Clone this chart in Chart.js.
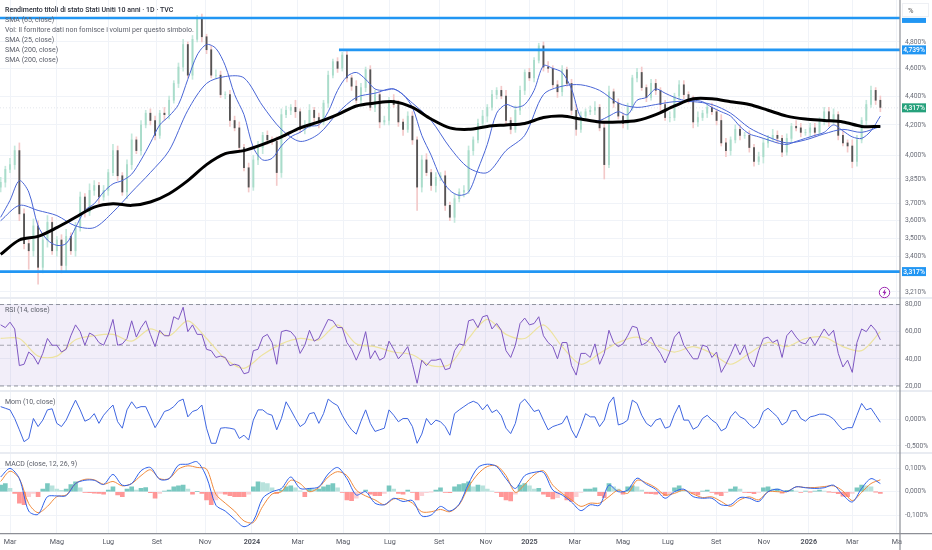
<!DOCTYPE html>
<html>
<head>
<meta charset="utf-8">
<title>Rendimento titoli di stato Stati Uniti 10 anni</title>
<script src="https://cdn.jsdelivr.net/npm/chart.js@4"></script>
<style>
    html, body { margin: 0; padding: 0; background: #fff; }
    #wrap { position: relative; width: 932px; height: 550px; overflow: hidden; font-family: Roboto, sans-serif; }
    #priceChart { position: absolute; left: 0; top: 0; }
    .lbl { position: absolute; left: 5px; font-size: 7px; line-height: 10px; color: #5d606b; white-space: nowrap; }
    .title { color: #2a2e39; font-weight: 500; }
    #unit { position: absolute; left: 902px; top: 3px; width: 27px; height: 14px; border: 1px solid #eef0f4; color: #555; font-size: 7.5px; line-height: 14px; text-indent: 5px; box-sizing: border-box; }
    #bolt { position: absolute; left: 878px; top: 286px; }
</style>
</head>
<body>
<div id="wrap">
    <canvas id="priceChart" width="932" height="550"></canvas>
    <div class="lbl title" style="top:5px">Rendimento titoli di stato Stati Uniti 10 anni · 1D · TVC</div>
    <div class="lbl" style="top:15px">SMA (65, close)</div>
    <div class="lbl" style="top:25px">Vol: Il fornitore dati non fornisce i volumi per questo simbolo.</div>
    <div class="lbl" style="top:35px">SMA (25, close)</div>
    <div class="lbl" style="top:45px">SMA (200, close)</div>
    <div class="lbl" style="top:55px">SMA (200, close)</div>
    <div class="lbl" style="top:305px">RSI (14, close)</div>
    <div class="lbl" style="top:397px">Mom (10, close)</div>
    <div class="lbl" style="top:459px">MACD (close, 12, 26, 9)</div>
    <div id="unit">%</div>
    <svg id="bolt" width="13" height="13" viewBox="0 0 13 13">
        <circle cx="6.5" cy="6.5" r="5.2" fill="#fff" stroke="#9c27b0" stroke-width="1"/>
        <path d="M7.4 2.8 L4.5 7 L6.2 7 L5.5 10.2 L8.5 5.8 L6.8 5.8 Z" fill="#9c27b0"/>
    </svg>
</div>
<script>
// Each sample is a block of about four sessions
const tickPositions = [2, 12, 23, 33.4, 43.7, 53.7, 63.5, 73.2, 83.2, 93.7, 103.7, 113, 122.7, 133, 142.6, 152.9, 163.1, 172.7, 182, 191.5];
const tickLabels = ['Mar', 'Mag', 'Lug', 'Set', 'Nov', '2024', 'Mar', 'Mag', 'Lug', 'Set', 'Nov', '2025', 'Mar', 'Mag', 'Lug', 'Set', 'Nov', '2026', 'Mar', 'Ma'];
const xMin = -0.14;
const xMax = 192.2;

const priceTicks = [4.8, 4.6, 4.4, 4.2, 4.0, 3.85, 3.7, 3.6, 3.5, 3.4, 3.21];
const rsiTicks = [80, 60, 40, 20];
const momTicks = [0, -0.5];
const macdTicks = [0.1, 0, -0.1];

const closes = [
    3.83,3.91,3.94,4.03,3.64,3.47,3.43,3.57,3.34,3.49,
    3.59,3.43,3.49,3.35,3.51,3.43,3.56,3.74,3.65,3.78,
    3.81,3.74,3.78,3.89,4.03,3.87,3.77,3.94,4.10,4.03,
    4.20,4.28,4.23,4.13,4.28,4.27,4.37,4.49,4.61,4.78,
    4.55,4.82,4.99,4.84,4.74,4.55,4.55,4.41,4.41,4.23,
    4.18,4.05,3.92,3.80,3.97,4.05,4.13,4.10,4.09,3.89,
    4.27,4.30,4.32,4.29,4.17,4.20,4.30,4.25,4.22,4.35,
    4.55,4.65,4.60,4.70,4.53,4.47,4.37,4.46,4.59,4.32,
    4.41,4.22,4.23,4.37,4.34,4.22,4.17,4.26,4.10,3.80,
    3.97,3.89,3.81,3.86,3.87,3.69,3.62,3.73,3.77,3.78,
    4.03,4.10,4.21,4.26,4.32,4.41,4.44,4.40,4.23,4.17,
    4.30,4.44,4.57,4.53,4.66,4.77,4.61,4.60,4.48,4.43,
    4.59,4.49,4.30,4.17,4.26,4.29,4.30,4.32,4.18,3.94,
    4.43,4.35,4.26,4.21,4.32,4.53,4.57,4.46,4.39,4.49,
    4.44,4.34,4.25,4.25,4.40,4.48,4.41,4.37,4.22,4.25,
    4.28,4.32,4.29,4.23,4.08,4.03,4.10,4.17,4.13,4.13,
    4.05,3.96,3.99,4.08,4.11,4.13,4.11,4.02,4.11,4.19,
    4.18,4.15,4.15,4.18,4.15,4.23,4.29,4.23,4.27,4.13,
    4.08,4.06,3.96,4.10,4.23,4.34,4.44,4.37,4.32
];
// Wick lengths above and below the body, in hundredths of a point
const wickHigh = [
    3,2,4,3,5,3,2,4,3,2, 4,3,2,3,4,2,3,3,2,4,
    3,2,3,2,4,3,2,3,4,2, 3,2,3,3,2,4,3,2,3,4,
    2,3,2,3,2,3,4,3,2,3, 3,4,2,3,3,4,2,3,2,3,
    4,3,2,5,2,3,4,2,3,2, 3,2,3,2,3,2,4,3,2,3,
    3,2,3,2,4,3,2,3,3,2, 3,4,2,3,2,3,2,3,2,3,
    3,2,3,4,2,3,2,3,4,2, 3,3,2,3,2,2,3,4,2,3,
    3,2,3,4,3,2,3,4,2,3, 4,2,3,2,3,2,3,4,2,3,
    3,2,3,4,2,3,3,2,3,4, 2,3,3,2,4,3,2,3,3,2,
    3,2,3,3,2,4,3,2,3,2, 4,3,2,3,3,2,3,3,4,2,
    3,2,4,3,2,3,3,2,3
];
const wickLow = [
    3,3,2,3,4,3,10,3,9,3, 4,2,3,4,3,2,3,2,3,2,
    3,4,2,3,2,3,2,4,3,2, 3,2,3,3,2,4,3,2,3,3,
    2,3,2,4,3,2,3,2,3,4, 2,3,2,3,2,3,4,3,2,8,
    3,2,3,4,2,3,2,3,4,2, 3,2,3,2,3,3,2,4,3,2,
    3,4,2,3,2,3,4,2,3,14, 3,2,3,4,2,3,2,3,2,3,
    2,3,2,3,4,2,3,2,3,3, 2,3,3,2,3,2,3,3,2,4,
    3,2,3,4,2,3,2,3,2,9, 2,3,2,3,4,2,3,2,3,2,
    3,4,2,3,2,3,3,2,4,3, 2,3,2,3,2,4,3,2,3,2,
    3,3,2,4,3,2,3,3,2,3, 2,3,2,3,3,2,3,4,2,3,
    2,4,4,3,2,3,2,3,3
];

// Moving averages: sma25 every 2 samples, sma65 and sma200 every 4
const sma25 = [
    3.62,3.72,3.84,3.77,3.57,3.49,3.46,3.47,3.56,3.66,3.70,3.77,3.82,3.84,3.88,3.97,
    4.08,4.20,4.26,4.34,4.52,4.70,4.78,4.75,4.62,4.41,4.27,4.05,3.97,3.98,4.06,4.12,
    4.15,4.19,4.20,4.29,4.44,4.54,4.57,4.52,4.45,4.44,4.45,4.41,4.32,4.13,4.00,3.86,
    3.78,3.75,3.77,3.91,4.07,4.28,4.34,4.32,4.34,4.44,4.62,4.60,4.57,4.45,4.25,4.23,
    4.23,4.26,4.29,4.27,4.37,4.39,4.45,4.42,4.39,4.37,4.37,4.36,4.32,4.29,4.26,4.19,
    4.14,4.12,4.10,4.08,4.07,4.09,4.11,4.13,4.15,4.20,4.16,4.12,4.11,4.16,4.26
];
const sma65 = [
    3.60,3.69,3.66,3.63,3.57,3.56,3.65,3.77,3.89,4.03,4.30,4.49,4.54,4.53,4.33,4.17,
    4.09,4.14,4.28,4.39,4.42,4.45,4.35,4.23,4.05,3.92,3.89,4.03,4.13,4.41,4.47,4.48,
    4.44,4.35,4.32,4.34,4.36,4.36,4.34,4.28,4.18,4.12,4.08,4.10,4.14,4.17,4.15,4.19
];
const sma200 = [
    3.41,3.49,3.51,3.56,3.62,3.68,3.70,3.69,3.71,3.76,3.84,3.94,4.01,4.03,4.07,4.12,
    4.18,4.22,4.27,4.33,4.35,4.36,4.32,4.24,4.18,4.17,4.19,4.20,4.21,4.25,4.26,4.24,
    4.22,4.22,4.23,4.27,4.33,4.38,4.38,4.36,4.34,4.30,4.26,4.24,4.23,4.22,4.19,4.19
];

const rsiValues = [
    65,63,67,62,35,36,45,42,36,44,55,50,50,45,47,57,65,60,50,59,57,52,50,58,69,50,51,55,68,56,
    63,68,58,49,61,57,57,71,69,78,60,65,58,58,47,46,41,42,41,35,36,35,29,30,46,47,56,58,52,36,
    60,61,60,56,44,50,61,
    53,55,62,69,68,63,63,52,47,39,47,60,40,46,39,41,53,47,40,44,49,36,22,39,35,39,39,40,32,33,
    46,51,50,68,69,63,71,72,62,66,61,46,41,50,66,70,65,66,71,57,52,49,40,52,52,35,28,44,44,41,
    51,36,44,61,52,49,
    51,57,64,63,50,52,56,49,44,37,45,56,60,50,45,40,40,50,49,41,45,30,36,43,51,43,50,39,34,46,
    55,56,52,54,41,57,61,56,52,51,56,50,56,62,57,61,44,34,39,30,52,62,60,65,61,54
];
const rsiMa = [
    55,55,42,42,54,57,58,53,62,57,68,55,40,33,43,51,55,54,65,51,49,45,43,35,36,55,69,58,55,65,
    49,36,44,52,56,50,45,49,44,36,44,52,49,55,56,49,46,60
];
const momValues = [
    .23,.20,.17,.01,-.20,-.42,-.36,.01,-.14,-.02,.17,.19,-.08,-.14,-.02,.17,.35,.17,-.04,0,
    .10,-.08,.07,.17,.26,-.05,-.17,.17,.32,.20,.23,.23,.04,-.16,-.02,.14,.17,.23,.33,.37,
    .04,.14,.17,.26,-.17,-.45,-.45,-.17,-.16,-.17,-.19,-.36,-.30,-.39,-.02,.17,.17,.10,.07,-.20,
    .01,.32,.17,.01,-.14,-.08,.10,
    .12,-.08,.10,.37,.30,.25,.07,-.08,-.20,-.28,-.04,.17,-.08,-.23,-.20,-.17,.17,.07,-.05,.01,
    .01,-.14,-.45,-.28,.01,-.11,-.02,-.05,-.14,-.30,.10,.17,.23,.29,.33,.29,.17,.27,.12,.17,
    .06,-.17,-.27,-.08,.29,.37,.26,.14,.17,-.02,-.20,-.14,-.11,-.08,.06,-.20,-.35,-.14,.10,.04,
    .04,-.14,-.02,.29,.41,-.11,
    -.08,-.02,.35,.29,.07,-.08,-.14,-.02,.01,-.17,-.14,.09,.26,-.02,-.02,-.19,-.14,.01,.07,-.02,
    -.08,-.22,-.17,.04,.14,.04,0,-.10,-.17,-.08,.14,.20,.12,.04,-.11,-.05,.15,.16,.01,-.04,
    .04,.06,.09,.09,.06,0,-.11,-.20,-.16,-.16,.07,.29,.17,.20,.07,-.06
];

// MACD and signal every 2 samples, histogram every sample
const macdLine = [
    .063,.100,.056,-.083,-.097,-.021,-.018,-.017,.035,.049,.049,.031,.074,.028,.035,.090,.104,
    .053,.056,.114,.118,.128,.063,-.058,-.083,-.118,-.150,-.125,-.028,0,.014,.063,.014,.014,
    .021,.076,.104,.056,-.014,0,-.049,-.056,-.028,-.042,-.038,-.104,-.100,-.063,-.083,-.053,.035,
    .104,.118,.108,.056,.014,.069,.083,.083,.007,-.014,-.044,-.081,-.056,-.058,.028,0,
    .007,.058,.032,.010,-.028,0,.011,-.021,-.028,-.028,-.056,-.056,-.025,-.028,-.042,0,.011,0,
    .021,.017,.014,.017,.028,-.014,-.044,.014,.056,.035
];
const macdSignal = [
    .044,.088,.056,-.051,-.090,-.063,-.021,-.014,.035,.053,.051,.032,.044,.025,.035,.069,.094,
    .056,.056,.097,.111,.104,.097,-.011,-.049,-.083,-.125,-.132,-.063,-.010,0,.049,.035,0,
    .018,.063,.086,.069,.007,-.018,-.035,-.056,-.031,-.031,-.049,-.086,-.086,-.076,-.086,-.056,.021,
    .076,.108,.111,.069,-.003,.031,.072,.090,.028,-.007,-.035,-.063,-.049,-.049,-.021,.007,
    -.007,.049,.038,.017,-.014,-.007,.007,-.010,-.025,-.022,-.042,-.063,-.035,-.022,-.035,0,0,0,
    .021,.018,.018,.022,.025,.003,-.038,-.003,.035,.051
];
const macdHist = [
    .028,.035,.014,-.007,-.049,-.056,-.021,-.007,-.021,.011,.035,.025,.011,.006,.011,.031,.042,.017,-.003,-.004,
    -.006,-.007,-.011,.007,.021,-.014,-.021,.011,.021,.007,.014,.018,-.004,-.028,-.007,.003,.007,.021,.025,.028,
    .011,-.011,.001,-.007,-.035,-.056,-.035,-.007,-.011,-.017,-.021,-.021,-.021,-.011,.021,.042,.039,.035,.017,-.007,
    .007,.021,.025,.017,.004,-.021,.014,
    .011,.011,.021,.028,.035,.017,-.003,-.035,-.038,-.028,-.007,.007,-.011,-.017,-.017,-.007,.025,.011,-.007,-.011,
    .007,-.003,-.035,-.017,-.004,-.001,.007,.017,-.003,-.004,.021,.031,.035,.042,.021,.028,.025,.011,.003,-.003,
    -.021,-.035,-.039,-.011,.028,.035,.025,.011,.014,-.011,-.021,-.031,-.025,-.003,-.035,-.042,-.021,-.003,.011,.011,
    .017,-.017,-.025,.035,.021,.011,
    -.011,.021,.025,.021,.007,-.007,-.008,-.011,-.007,-.017,-.011,.017,.025,.007,.003,-.007,-.014,.003,.007,-.003,
    -.011,-.017,-.004,.011,.021,.011,-.003,-.004,-.008,-.003,.017,.021,.011,.011,-.006,.006,.007,.003,-.003,.003,
    -.001,.003,.007,.003,-.001,-.003,-.008,-.019,-.021,-.007,.017,.028,.025,.021,-.001,-.007
];

const topLevel = 4.989;
const midLevel = 4.739;
const midLevelStart = 72.3;
const lowLevel = 3.317;
const lastClose = 4.317;

const COLORS = {
    level: '#2196f3', smaThin: '#4a66d6', smaThick: '#000000',
    up: '#a9dcca', down: '#555555', wickUp: '#c4e8dc', wickDown: '#f3c9c9',
    rsi: '#7e57c2', rsiMa: '#ede3a0', mom: '#3f66e0', macd: '#2f62ea', signal: '#f08a3c',
    grid: '#f0f3f8', axis: '#8d8f96', text: '#6a6d78'
};

const bodies = closes.map((c, i) => {
    const open = i > 0 ? closes[i - 1] : c - 0.03;
    return { x: i, y: [Math.min(open, c), Math.max(open, c)] };
});
const wicks = closes.map((c, i) => {
    const open = i > 0 ? closes[i - 1] : c - 0.03;
    return { x: i, y: [Math.min(open, c) - wickLow[i] / 100, Math.max(open, c) + wickHigh[i] / 100] };
});
const isUp = i => i === 0 || closes[i] >= closes[i - 1];

function series(values, step) {
    return values.map((v, i) => ({ x: i * step, y: v }));
}

function lineSet(values, step, axis, color, width, order, tension) {
    return {
        type: 'line', data: series(values, step), yAxisID: axis,
        borderColor: color, borderWidth: width, pointRadius: 0, tension: tension || 0, order: order
    };
}

// Straight two point line used for levels and guides
function flatSet(value, axis, color, width, order, dash, start) {
    return {
        type: 'line', data: [{ x: start === undefined ? xMin : start, y: value }, { x: xMax, y: value }],
        yAxisID: axis, borderColor: color, borderWidth: width, borderDash: dash || [],
        pointRadius: 0, order: order
    };
}

function yScale(ticksList, weight, min, max, format, extra) {
    return Object.assign({
        type: 'linear', position: 'right', stack: 'panes', stackWeight: weight, min: min, max: max,
        afterFit: s => { s.width = 32; s.paddingTop = 0; s.paddingBottom = 0; },
        afterBuildTicks: s => { s.ticks = ticksList.map(v => ({ value: v })); },
        grid: { color: COLORS.grid, drawTicks: false },
        border: { display: false },
        ticks: {
            autoSkip: false, padding: 5, color: COLORS.text, font: { family: 'Roboto', size: 6.7 },
            callback: format
        }
    }, extra || {});
}

const fmtPct = v => v.toFixed(3).replace('.', ',') + '%';
const fmtRsi = v => v.toFixed(2).replace('.', ',');

// Right side price tags and frame lines
const framePlugin = {
    id: 'frame',
    afterDatasetsDraw(chart) {
        const ctx = chart.ctx;
        const s = chart.scales;
        ctx.save();
        ctx.strokeStyle = '#e9ecf2';
        ctx.lineWidth = 2;
        [s.yRsi.top, s.yMom.top, s.yMacd.top].forEach(y => {
            ctx.beginPath();
            ctx.moveTo(0, y);
            ctx.lineTo(932, y);
            ctx.stroke();
        });
        ctx.strokeStyle = COLORS.axis;
        ctx.lineWidth = 1.2;
        ctx.beginPath();
        ctx.moveTo(s.x.right, 0);
        ctx.lineTo(s.x.right, 550);
        ctx.moveTo(0, s.x.top);
        ctx.lineTo(932, s.x.top);
        ctx.stroke();

        const tags = [
            [topLevel, COLORS.level, 3],
            [midLevel, COLORS.level, 0],
            [lastClose, '#26a17c', 0],
            [lowLevel, COLORS.level, 0]
        ];
        ctx.font = '500 6.7px Roboto';
        ctx.textAlign = 'center';
        ctx.textBaseline = 'middle';
        tags.forEach(t => {
            const y = s.y.getPixelForValue(t[0]);
            ctx.fillStyle = t[1];
            if (t[2]) {
                ctx.fillRect(902, y, 24, 5);
                return;
            }
            ctx.fillRect(902, y - 4.5, 24, 9);
            ctx.fillStyle = '#fff';
            ctx.fillText(fmtPct(t[0]), 914, y + 0.3);
        });
        ctx.restore();
    }
};

const chart = new Chart(document.getElementById('priceChart').getContext('2d'), {
    data: {
        datasets: [
            // price pane
            flatSet(topLevel, 'y', COLORS.level, 2.6, 1),
            flatSet(midLevel, 'y', COLORS.level, 2.6, 1, null, midLevelStart),
            flatSet(lowLevel, 'y', COLORS.level, 2.6, 1),
            flatSet(lastClose, 'y', '#e3e6ec', 1, 9, [1, 2]),
            lineSet(sma200, 4, 'y', COLORS.smaThick, 3, 2, 0.3),
            lineSet(sma65, 4, 'y', COLORS.smaThin, 1, 3, 0.3),
            lineSet(sma25, 2, 'y', COLORS.smaThin, 1, 3, 0.3),
            {
                type: 'bar', data: bodies, yAxisID: 'y', grouped: false, barThickness: 1.2, order: 5,
                backgroundColor: c => isUp(c.dataIndex) ? COLORS.up : COLORS.down
            },
            {
                type: 'bar', data: wicks, yAxisID: 'y', grouped: false, barThickness: 1, order: 6,
                backgroundColor: c => isUp(c.dataIndex) ? COLORS.wickUp : COLORS.wickDown
            },
            // RSI pane
            lineSet(rsiValues, 1, 'yRsi', COLORS.rsi, 1, 2),
            lineSet(rsiMa, 4, 'yRsi', COLORS.rsiMa, 1.2, 3, 0.3),
            flatSet(50, 'yRsi', '#8f929c', 0.8, 4, [4, 3]),
            flatSet(20, 'yRsi', '#787b86', 0.8, 4, [4, 3]),
            Object.assign(flatSet(80, 'yRsi', '#787b86', 0.8, 4, [4, 3]), {
                fill: { value: 20 }, backgroundColor: 'rgba(126, 87, 194, 0.1)'
            }),
            // momentum pane
            lineSet(momValues, 1, 'yMom', COLORS.mom, 1, 2),
            // MACD pane
            lineSet(macdLine, 2, 'yMacd', COLORS.macd, 1, 2, 0.3),
            lineSet(macdSignal, 2, 'yMacd', COLORS.signal, 1, 3, 0.3),
            {
                type: 'bar', data: series(macdHist, 1), yAxisID: 'yMacd', grouped: false, barThickness: 4, order: 4,
                backgroundColor: c => {
                    const v = macdHist[c.dataIndex];
                    const prev = c.dataIndex > 0 ? macdHist[c.dataIndex - 1] : 0;
                    if (v >= 0) return v >= prev ? 'rgba(38, 166, 154, 0.62)' : '#b8e2dc';
                    return v <= prev ? 'rgba(255, 82, 82, 0.6)' : '#fbd0d4';
                }
            }
        ]
    },
    options: {
        responsive: false,
        animation: false,
        layout: { padding: 0 },
        plugins: { legend: { display: false }, tooltip: { enabled: false } },
        scales: {
            x: {
                type: 'linear', min: xMin, max: xMax, position: 'bottom', offset: false,
                afterFit: s => { s.height = 16.3; s.paddingLeft = 0; s.paddingRight = 0; },
                afterBuildTicks: s => { s.ticks = tickPositions.map(v => ({ value: v })); },
                grid: { color: COLORS.grid, drawTicks: false, offset: false },
                border: { display: false },
                ticks: {
                    autoSkip: false, maxRotation: 0, padding: 4, color: '#555862',
                    font: c => ({ family: 'Roboto', size: 7.2, weight: /^\d/.test(tickLabels[c.index]) ? 'bold' : 'normal' }),
                    callback: (v, i) => tickLabels[i]
                }
            },
            y: yScale(priceTicks, 298, 3.179, 5.135, fmtPct, { type: 'logarithmic' }),
            yRsi: yScale(rsiTicks, 93, 16.3, 84.8, fmtRsi),
            yMom: yScale(momTicks, 62, -0.63, 0.52, fmtPct),
            yMacd: yScale(macdTicks, 80.7, -0.18, 0.166, fmtPct)
        }
    },
    plugins: [framePlugin]
});
</script>
</body>
</html>
